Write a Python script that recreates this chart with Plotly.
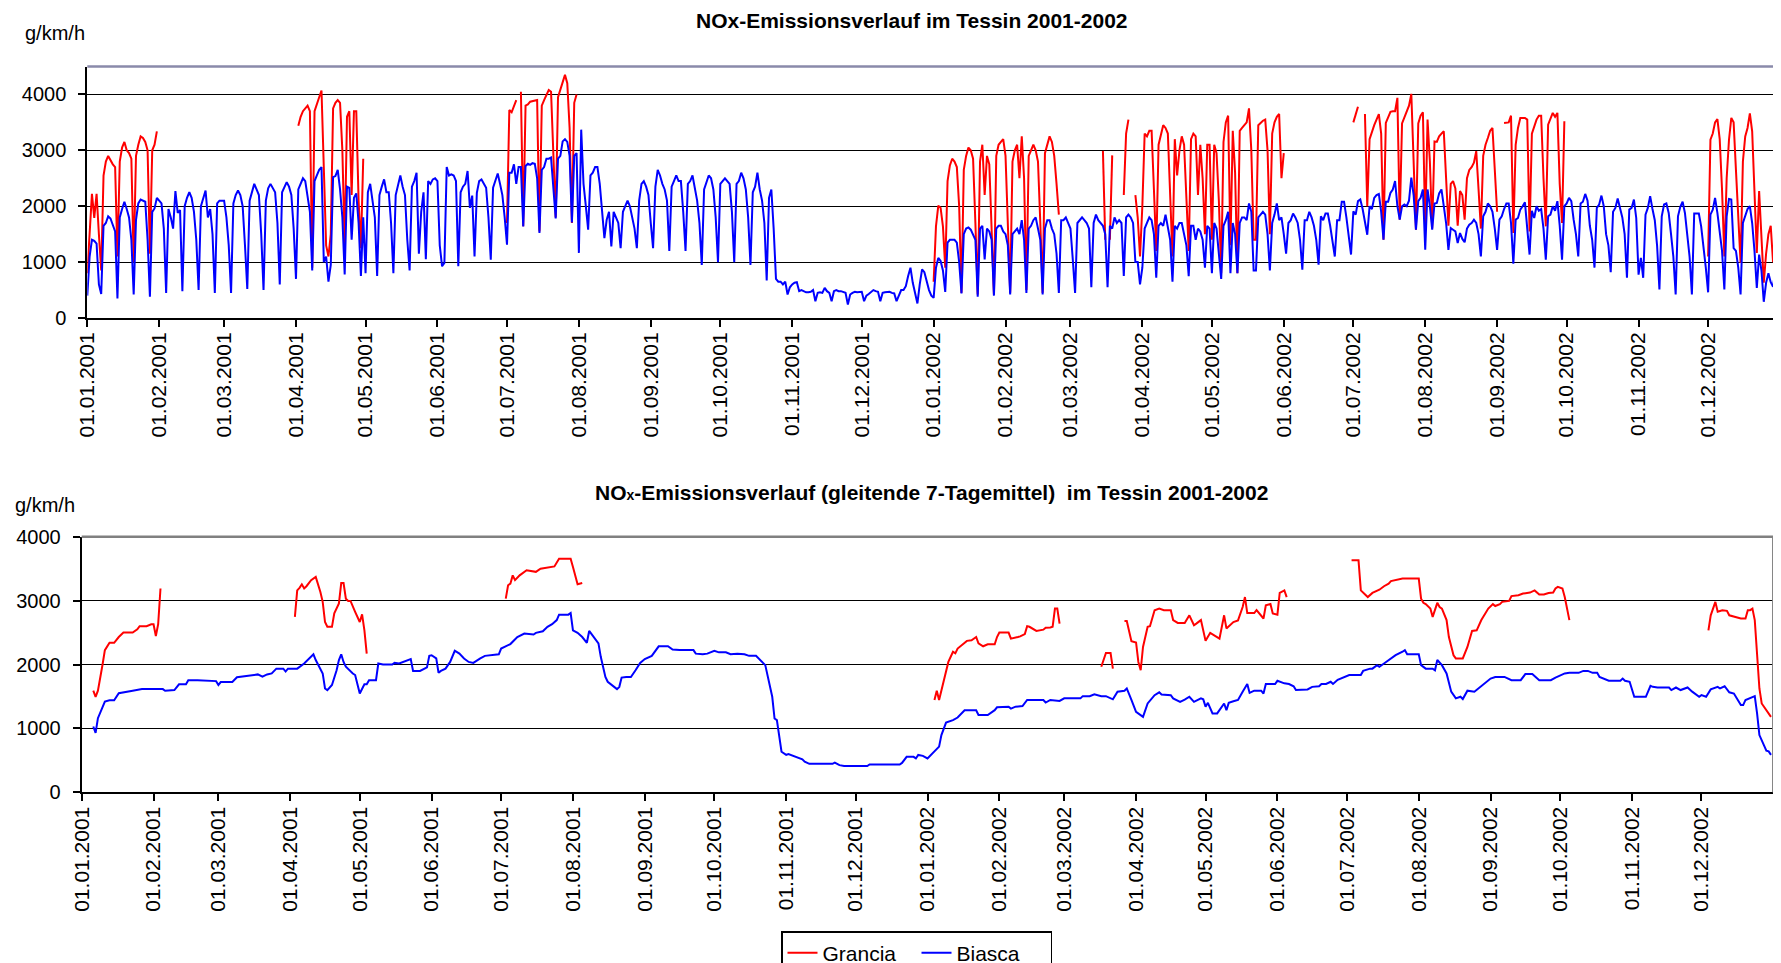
import numpy as np
import pandas as pd
import plotly.graph_objects as go

# daily NOx emission, Biasca (g/km/h), 01.01.2001 - 31.12.2002, one row per week (Mon-Sun)
biasca = [
    400, 1100, 1400, 1380, 1330, 600, 430,
    1650, 1700, 1820, 1780, 1680, 1550, 350,
    1800, 1950, 2080, 1950, 1800, 1400, 420,
    1750, 2050, 2120, 2100, 2080, 1400, 380,
    1900, 1960, 2150, 2100, 2050, 1600, 450,
    1950, 1800, 1600, 2270, 1880, 1930, 480,
    2000, 2150, 2250, 2150, 1900, 1400, 500,
    2000, 2150, 2280, 1800, 1950, 1500, 450,
    2050, 2100, 2100, 2100, 1800, 1300, 450,
    2050, 2200, 2280, 2200, 2000, 1300, 520,
    2100, 2250, 2400, 2300, 2200, 1500, 500,
    2100, 2320, 2400, 2330, 2250, 1700, 600,
    2250, 2350, 2430, 2350, 2200, 1600, 700,
    2300, 2400, 2500, 2450, 2200, 1900, 850,
    2450, 2550, 2650, 2700, 1000, 1100, 650,
    950, 2520, 2540, 2650, 2300, 1800, 780,
    2350, 2330, 1400, 2150, 2230, 1700, 750,
    1800, 800, 2250, 2400, 2100, 1800, 750,
    2200, 2350, 2480, 2250, 2250, 1700, 800,
    2200, 2400, 2550, 2350, 2200, 1400, 850,
    2350, 2450, 2600, 1150, 1900, 2250, 1050,
    2450, 2400, 2480, 2500, 2450, 1300, 925,
    985, 2700, 2550, 2570, 2550, 2450, 925,
    2250, 2350, 2400, 2630, 1970, 2190, 1100,
    2240, 2450, 2480, 2400, 2330, 1800, 1045,
    2330, 2450, 2585, 2400, 2200, 1800, 1310,
    2600, 2600, 2750, 2400, 2700, 2700, 1640,
    2720, 2760, 2740, 2770, 2760, 2500, 1520,
    2650, 2700, 2850, 2850, 2870, 2400, 1780,
    2850, 2900, 3160, 3200, 3150, 2900, 1710,
    2900, 2950, 1165, 3370, 2400, 2000, 1580,
    2550, 2600, 2700, 2700, 2400, 1900, 1430,
    1760, 1900, 1280, 1900, 1800, 1700, 1250,
    1900, 2000, 2100, 2000, 1800, 1600, 1250,
    2100, 2400, 2450, 2350, 2200, 1700, 1250,
    2350, 2650, 2550, 2400, 2300, 2100, 1200,
    2350, 2450, 2550, 2450, 2450, 1900, 1200,
    2400, 2450, 2550, 2300, 2100, 1700, 950,
    2300, 2450, 2550, 2500, 2300, 1800, 1000,
    2400, 2450, 2500, 2450, 2400, 1900, 1000,
    2400, 2450, 2600, 2500, 2300, 1800, 950,
    2250, 2350, 2600, 2300, 2100, 1700, 670,
    2150, 2300, 1600, 700, 650, 650, 600,
    650, 420, 550, 600, 630, 640, 480,
    500, 480, 460, 460, 470, 500, 300,
    450, 460, 450, 540, 480, 450, 300,
    480, 500, 480, 480, 460, 450, 240,
    420, 450, 470, 460, 470, 470, 300,
    400, 430, 470, 500, 480, 470, 300,
    450, 460, 470, 470, 450, 440, 300,
    420, 500, 500, 570, 750, 900, 630,
    470, 260, 600, 870, 820, 630, 500,
    400, 360, 900, 1075, 1020, 850, 465,
    1350, 1400, 1400, 1400, 1350, 1000, 440,
    1500, 1600, 1620, 1580, 1500, 1400, 380,
    1600, 1650, 1050, 1600, 1550, 1400, 400,
    1600, 1650, 1650, 1550, 1500, 1300, 420,
    1500, 1550, 1600, 1500, 1750, 1400, 450,
    1600, 1650, 1750, 1800, 1600, 1400, 420,
    1600, 1750, 1750, 1600, 1500, 1150, 450,
    1750, 1750, 1800, 1700, 1600, 1050, 450,
    1700, 1750, 1800, 1750, 1700, 1600, 550,
    1700, 1850, 1750, 1700, 1650, 1500, 550,
    1650, 1600, 1800, 1700, 1750, 1700, 750,
    1800, 1850, 1800, 1700, 1000, 1000, 600,
    900, 1600, 1700, 1800, 1750, 1500, 720,
    1650, 1700, 1650, 1850, 1650, 1400, 650,
    1650, 1600, 1700, 1700, 1500, 1300, 750,
    1650, 1650, 1400, 1600, 1550, 1400, 900,
    1650, 1600, 800, 1700, 1600, 1200, 700,
    1650, 1750, 1900, 800, 1700, 1500, 800,
    1700, 1800, 1800, 1750, 2050, 1900, 850,
    850, 1800, 1850, 1900, 1850, 1500, 850,
    1700, 1850, 2050, 1750, 1800, 1500, 1150,
    1700, 1750, 1870, 1800, 1700, 1400, 865,
    1750, 1750, 1900, 1800, 1650, 1400, 955,
    1820, 1750, 1870, 1870, 1650, 1400, 1100,
    1750, 1750, 2080, 2080, 1800, 1500, 1135,
    1910, 1850, 2090, 2120, 1950, 1700, 1490,
    2000, 1950, 2150, 2200, 2220, 1900, 1400,
    2080, 2080, 2240, 2300, 2450, 2000, 1760,
    2000, 2030, 2000, 2100, 2510, 2200, 1580,
    2090, 2150, 2300, 1220, 2300, 2000, 1580,
    2050, 2060, 2230, 2300, 2000, 1700, 1220,
    1610, 1580, 1550, 1340, 1520, 1415, 1355,
    1600, 1670, 1700, 1760, 1700, 1500, 1100,
    1820, 1900, 2050, 2000, 1900, 1600, 1220,
    1760, 1820, 1950, 2050, 2050, 1700, 970,
    1760, 1790, 1940, 2000, 2070, 1600, 1135,
    1920, 1790, 2000, 1920, 1950, 1600, 1045,
    1820, 1850, 2000, 1920, 2090, 1650, 1045,
    2000, 2050, 2150, 2090, 1760, 1500, 1100,
    2050, 2080, 2220, 2100, 1650, 1400, 900,
    1970, 2030, 2190, 2000, 1500, 1300, 820,
    1900, 1970, 2140, 1970, 1800, 1500, 720,
    1940, 1970, 2120, 1790, 775, 1075, 720,
    1850, 1970, 2180, 1950, 1750, 1290, 510,
    1820, 2030, 2050, 1880, 1500, 1100, 420,
    1820, 1990, 2080, 1880, 1500, 1100, 420,
    1870, 1870, 1870, 1640, 1300, 900, 460,
    1850, 1940, 2150, 1880, 1500, 1200, 510,
    1820, 2130, 2120, 1250, 1200, 900, 420,
    1700, 1820, 1950, 2000, 1700, 1200, 540,
    1135, 850, 290, 630, 800, 640, 560,
    870, 555,
]

# daily NOx emission, Grancia: only available in these periods (start date, values)
grancia_starts = ["2001-01-01", "2001-04-02", "2001-07-01", "2001-07-07",
                  "2002-01-01", "2002-03-15", "2002-03-18", "2002-03-24",
                  "2002-03-29", "2002-07-01", "2002-07-06", "2002-09-04",
                  "2002-12-01"]
grancia_jan01 = [
    800, 1600, 2220, 1790, 2220, 1500, 850,
    2550, 2800, 2900, 2820, 2750, 2700, 1100,
    2800, 3050, 3150, 3000, 2950, 2850, 1000,
    2900, 3100, 3250, 3220, 3150, 3000, 1150,
    3000, 3100, 3340,
]
grancia_apr01 = [
    3440, 3600, 3700, 3750, 3800, 3700, 900,
    3700, 3850, 3950, 4070, 2600, 1300, 1100,
    1500, 3750, 3850, 3900, 3850, 3000, 1300,
    3600, 3700, 2200, 3700, 3700, 2100, 1250,
    2850,
]
grancia_jul01a = [1700, 3720, 3680, 3800, 3900]
grancia_jul01b = [
    4050, 1640,
    3800, 3820, 3870, 3880, 3900, 3900, 1550,
    3800, 3900, 4000, 4080, 4050, 3000, 1800,
    3950, 4100, 4250, 4350, 4200, 3400, 1700,
    3850, 4000,
]
grancia_jan02 = [
    650, 1640, 2010, 1970, 1640, 900,
    2450, 2730, 2850, 2800, 2700, 2000, 450,
    2650, 2900, 3050, 3000, 2850, 1700, 420,
    2800, 3100, 2200, 2900, 2750, 1500, 420,
    2900, 3100, 3150, 3200, 2900, 1800, 450,
    2800, 3000, 3100, 2500, 3250, 2500, 500,
    2900, 3000, 3100, 3000, 2800, 1700, 450,
    2950, 3100, 3250, 3150, 2900, 2400, 1850,
]
grancia_mar02a = [2990, 1400]
grancia_mar02b = [1400, 2910]
grancia_mar02c = [2200, 3300, 3550]
grancia_mar02d = [
    2200, 1800, 1100,
    2000, 3300, 3250, 3350, 3350, 2300, 1200,
    3100, 3300, 3450, 3400, 3300, 2200, 1100,
    3200, 2550, 3000, 3250, 3100, 2200, 1200,
    3200, 3300, 3250, 2200, 3100, 2500, 1500,
    3100, 3100, 1400, 3100, 2950, 2100, 800,
    3150, 3500, 3620, 1300, 3350, 2600, 800,
    3350, 3400, 3450, 3500, 3750, 3000, 1400,
    1400, 3450, 3500, 3530, 3550, 3000, 1500,
    3300, 3500, 3600, 3650, 2500, 2950,
]
grancia_jul02a = [3500, 3650, 3780]
grancia_jul02b = [
    3650, 2000,
    3200, 3350, 3450, 3550, 3650, 3300, 1400,
    3490, 3600, 3690, 3700, 3700, 3940, 1760,
    3480, 3580, 3700, 3800, 4010, 2900, 1580,
    3480, 3620, 3680, 1600, 3550, 2800, 1600,
    3160, 3150, 3250, 3300, 3340, 2500, 1650,
    2400, 2450, 2320, 1650, 2270, 2200, 1760,
    2500, 2650, 2700, 2780, 2985, 2300, 1600,
    2900, 3100, 3220, 3350, 3400, 2700, 1900,
]
grancia_sep02 = [
    3490, 3490, 3500, 3620, 1520,
    3100, 3400, 3580, 3580, 3580, 3550, 1550,
    3300, 3430, 3550, 3620, 3620, 2500, 1640,
    3460, 3580, 3670, 3600, 3670, 2400, 1700, 3520,
]
grancia_dec02 = [
    1100,
    3190, 3300, 3500, 3560, 3200, 2300, 1100,
    2500, 3190, 3580, 3500, 2650, 1800, 985,
    2800, 3250, 3400, 3660, 3340, 2100, 1165,
    2270, 1500, 630, 1150, 1500, 1650, 1000, 1690, 1165,
]
grancia_segments = [grancia_jan01, grancia_apr01, grancia_jul01a, grancia_jul01b,
                    grancia_jan02, grancia_mar02a, grancia_mar02b, grancia_mar02c,
                    grancia_mar02d, grancia_jul02a, grancia_jul02b, grancia_sep02,
                    grancia_dec02]

# 7-day moving average, (days since 01.01.2001, value); None = no data
ma_biasca = [
    (5, 1030), (6, 930), (7, 1160), (9, 1340), (10, 1420), (12, 1440), (14, 1440),
    (16, 1550), (18, 1560), (22, 1590), (26, 1615), (35, 1615), (36, 1590), (40, 1600),
    (42, 1690), (45, 1690), (46, 1755), (50, 1755), (58, 1740), (59, 1680), (60, 1725),
    (65, 1725), (67, 1800), (71, 1820), (76, 1845), (78, 1810), (80, 1845), (82, 1860),
    (84, 1935), (87, 1935), (88, 1890), (89, 1935), (93, 1935), (96, 2015), (100, 2160),
    (101, 2070), (104, 1860), (105, 1625), (106, 1600), (108, 1680), (110, 1910),
    (111, 2070), (112, 2160), (113, 2040), (114, 1965), (117, 1860), (118, 1835),
    (120, 1545), (122, 1690), (123, 1690), (124, 1755), (127, 1755), (128, 2015),
    (130, 2000), (134, 2000), (135, 2025), (137, 2015), (142, 2085), (143, 1900),
    (146, 1900), (149, 1955), (150, 2135), (151, 2145), (153, 2095), (154, 1870),
    (155, 1900), (157, 1935), (159, 2040), (161, 2215), (163, 2170), (165, 2095),
    (167, 2040), (169, 2025), (172, 2095), (174, 2135), (180, 2160), (181, 2250),
    (185, 2320), (188, 2430), (191, 2485), (195, 2470), (196, 2495), (199, 2520),
    (201, 2590), (203, 2630), (205, 2695), (206, 2780), (210, 2780), (211, 2805),
    (212, 2535), (214, 2495), (216, 2430), (218, 2340), (219, 2525), (221, 2430),
    (223, 2330), (224, 2120), (226, 1805), (227, 1730), (230, 1650), (231, 1615),
    (232, 1650), (233, 1795), (235, 1805), (237, 1805), (239, 1910), (241, 2025),
    (243, 2085), (246, 2135), (249, 2285), (253, 2285), (255, 2235), (258, 2225),
    (264, 2225), (265, 2170), (268, 2160), (270, 2170), (273, 2215), (275, 2190),
    (278, 2190), (280, 2160), (283, 2170), (286, 2160), (288, 2135), (291, 2135),
    (295, 1990), (298, 1495), (299, 1155), (300, 1130), (302, 635), (304, 585),
    (305, 600), (308, 555), (311, 515), (312, 480), (314, 445), (324, 445), (325, 465),
    (327, 425), (329, 410), (339, 410), (340, 435), (353, 435), (354, 460), (356, 555),
    (359, 555), (360, 530), (361, 585), (363, 570), (365, 530), (370, 715), (371, 895),
    (373, 1090), (376, 1130), (378, 1170), (379, 1210), (381, 1285), (383, 1285),
    (386, 1285), (387, 1210), (391, 1210), (394, 1285), (395, 1330), (400, 1340),
    (401, 1310), (403, 1340), (406, 1350), (408, 1445), (415, 1445), (416, 1405),
    (418, 1445), (422, 1430), (424, 1470), (431, 1470), (432, 1505), (435, 1505),
    (437, 1535), (440, 1505), (442, 1505), (445, 1455), (447, 1575), (450, 1590),
    (451, 1625), (453, 1445), (454, 1365), (455, 1260), (458, 1180), (460, 1390),
    (463, 1520), (465, 1565), (466, 1530), (470, 1520), (471, 1470), (474, 1415),
    (476, 1450), (478, 1495), (480, 1415), (483, 1470), (484, 1455), (485, 1340),
    (486, 1400), (488, 1235), (490, 1235), (491, 1285), (493, 1390), (494, 1285),
    (495, 1400), (497, 1425), (499, 1445), (501, 1575), (503, 1695), (504, 1555),
    (506, 1590), (509, 1590), (510, 1545), (511, 1695), (515, 1695), (516, 1745),
    (519, 1705), (521, 1695), (523, 1660), (524, 1600), (529, 1610), (531, 1650),
    (534, 1660), (535, 1695), (537, 1695), (539, 1730), (540, 1695), (542, 1760),
    (547, 1835), (552, 1835), (553, 1900), (556, 1935), (557, 1935), (559, 1990),
    (560, 1965), (562, 2015), (564, 2070), (567, 2145), (570, 2200), (571, 2225),
    (572, 2160), (577, 2160), (578, 1990), (580, 1935), (583, 1935), (584, 1910),
    (585, 2070), (587, 1990), (589, 1860), (591, 1575), (593, 1470), (595, 1495),
    (596, 1460), (598, 1590), (601, 1575), (604, 1665), (608, 1780), (610, 1805),
    (614, 1805), (617, 1755), (621, 1755), (623, 1850), (626, 1850), (629, 1755),
    (634, 1755), (636, 1795), (639, 1835), (640, 1860), (642, 1870), (646, 1870),
    (648, 1900), (650, 1900), (652, 1870), (654, 1870), (655, 1805), (657, 1770),
    (659, 1745), (664, 1745), (665, 1780), (666, 1745), (668, 1730), (670, 1495),
    (675, 1495), (677, 1665), (678, 1650), (680, 1640), (685, 1640), (686, 1600),
    (688, 1640), (690, 1600), (693, 1640), (695, 1575), (698, 1495), (699, 1520),
    (701, 1495), (703, 1610), (706, 1650), (707, 1625), (709, 1660), (711, 1565),
    (713, 1545), (716, 1365), (717, 1365), (718, 1445), (721, 1485), (722, 1505),
    (723, 1235), (724, 895), (727, 650), (728, 640), (729, 585),
]
ma_grancia = [
    (5, 1590), (6, 1495), (7, 1590), (8, 1780), (9, 2000), (10, 2225), (12, 2340),
    (14, 2340), (16, 2430), (18, 2500), (22, 2500), (24, 2550), (25, 2600), (28, 2600),
    (30, 2630), (31, 2630), (32, 2445), (33, 2630), (34, 3190), (60, None),
    (92, 2745), (93, 3160), (94, 3200), (95, 3255), (96, 3190), (97, 3225), (99, 3320),
    (101, 3370), (103, 3135), (104, 2980), (105, 2665), (106, 2590), (108, 2590),
    (109, 2800), (111, 2955), (112, 3275), (113, 3275), (114, 3030), (115, 2995),
    (116, 2995), (118, 2825), (120, 2665), (121, 2785), (122, 2535), (123, 2170),
    (150, None),
    (183, 3030), (184, 3240), (185, 3265), (186, 3395), (187, 3320), (189, 3395),
    (192, 3475), (194, 3465), (196, 3450), (198, 3500), (201, 3515), (204, 3535),
    (206, 3655), (211, 3655), (212, 3525), (214, 3255), (216, 3275), (300, None),
    (368, 1445), (369, 1590), (370, 1445), (372, 1755), (374, 2040), (376, 2200),
    (377, 2175), (378, 2250), (381, 2330), (382, 2370), (384, 2380), (386, 2430),
    (387, 2330), (389, 2285), (391, 2315), (394, 2315), (395, 2430), (396, 2500),
    (400, 2500), (401, 2405), (404, 2430), (405, 2440), (407, 2475), (408, 2600),
    (409, 2590), (411, 2545), (412, 2525), (415, 2545), (416, 2575), (418, 2580),
    (419, 2590), (420, 2875), (421, 2875), (422, 2640), (430, None),
    (440, 1965), (442, 2180), (444, 2180), (445, 1935), (448, None),
    (450, 2680), (451, 2680), (453, 2365), (455, 2345), (456, 2040), (457, 1910),
    (458, 2275), (460, 2590), (461, 2600), (463, 2850), (465, 2875), (467, 2850),
    (470, 2850), (471, 2695), (473, 2650), (476, 2650), (478, 2770), (480, 2615),
    (481, 2640), (483, 2695), (485, 2370), (487, 2495), (491, 2405), (493, 2770),
    (494, 2565), (497, 2665), (499, 2690), (501, 2900), (502, 3055), (503, 2805),
    (506, 2805), (507, 2850), (510, 2720), (511, 2925), (513, 2945), (514, 2800),
    (516, 2780), (517, 3120), (519, 3160), (520, 3055), (530, None),
    (548, 3630), (551, 3630), (552, 3160), (553, 3125), (555, 3055), (557, 3120),
    (559, 3150), (560, 3170), (562, 3225), (564, 3265), (565, 3305), (567, 3320),
    (569, 3330), (570, 3345), (577, 3345), (578, 3030), (579, 2965), (580, 2945),
    (582, 2875), (583, 2745), (585, 2965), (586, 2900), (587, 2875), (589, 2695),
    (590, 2430), (592, 2145), (593, 2095), (596, 2095), (598, 2275), (599, 2405),
    (600, 2525), (602, 2535), (604, 2695), (607, 2875), (609, 2945), (610, 2915),
    (612, 2945), (613, 2980), (616, 2995), (617, 3070), (620, 3085), (622, 3110),
    (625, 3125), (627, 3160), (629, 3095), (631, 3095), (633, 3120), (635, 3125),
    (636, 3190), (637, 3215), (639, 3190), (640, 3055), (642, 2695), (670, None),
    (702, 2535), (703, 2770), (705, 2980), (706, 2825), (708, 2850), (710, 2840),
    (711, 2770), (714, 2745), (716, 2720), (718, 2720), (719, 2850), (720, 2850),
    (721, 2875), (722, 2695), (724, 1625), (725, 1390), (727, 1285), (728, 1235),
    (729, 1180),
]

RED = "#ff0000"
BLUE = "#0000ff"
FONT = "Arial, Liberation Sans, sans-serif"
W, H = 1781, 963
OFF = 8  # page body margin in front of the plot div


def fx(px):
    return (px - OFF) / W


def fy(py):
    return 1 - (py - OFF) / H


start = pd.Timestamp("2001-01-01")
days = pd.date_range(start, periods=len(biasca), freq="D")

grancia = pd.Series(np.nan, index=days)
for s, vals in zip(grancia_starts, grancia_segments):
    grancia.loc[pd.date_range(s, periods=len(vals), freq="D")] = vals


def ma_xy(pairs):
    x = [start + pd.Timedelta(days=d) for d, _ in pairs]
    y = [v for _, v in pairs]
    return x, y


gx, gy = ma_xy(ma_grancia)
bx, by = ma_xy(ma_biasca)

fig = go.Figure()
fig.add_trace(go.Scatter(x=days, y=grancia.values, mode="lines", name="Grancia",
                         line=dict(color=RED, width=2), showlegend=False,
                         xaxis="x", yaxis="y"))
fig.add_trace(go.Scatter(x=days, y=biasca, mode="lines", name="Biasca",
                         line=dict(color=BLUE, width=2), showlegend=False,
                         xaxis="x", yaxis="y"))
fig.add_trace(go.Scatter(x=gx, y=gy, mode="lines", name="Grancia",
                         line=dict(color=RED, width=2), xaxis="x2", yaxis="y2"))
fig.add_trace(go.Scatter(x=bx, y=by, mode="lines", name="Biasca",
                         line=dict(color=BLUE, width=2), xaxis="x2", yaxis="y2"))

months = pd.date_range("2001-01-01", "2002-12-01", freq="MS")
month_text = [m.strftime("%d.%m.%Y") for m in months]

xaxis_style = dict(
    type="date", range=["2001-01-01", "2003-01-01"], automargin=False,
    tickmode="array", tickvals=months, ticktext=month_text, tickangle=-90,
    ticks="outside", ticklen=7, tickwidth=1.5, tickcolor="black",
    ticklabelstandoff=-3,
    showline=True, linecolor="black", linewidth=2,
    showgrid=False, zeroline=False,
    tickfont=dict(family=FONT, size=21, color="black"),
)
yaxis_style = dict(
    dtick=1000, tick0=0, automargin=False,
    ticks="outside", ticklen=7, tickwidth=1.5, tickcolor="black",
    ticklabelstandoff=8,
    showline=True, linecolor="black", linewidth=2,
    showgrid=True, gridcolor="black", gridwidth=1.3, zeroline=False,
    tickfont=dict(family=FONT, size=20, color="black"),
)

fig.update_layout(
    width=W, height=H,
    margin=dict(l=0, r=0, t=0, b=0, pad=0, autoexpand=False),
    paper_bgcolor="white", plot_bgcolor="white",
    font=dict(family=FONT, color="black"),
    xaxis=dict(domain=[fx(87.3), fx(1780)], anchor="y", **xaxis_style),
    yaxis=dict(domain=[fy(318), fy(66.5)], range=[0, 4500], anchor="x", **yaxis_style),
    xaxis2=dict(domain=[fx(81.7), fx(1773.3)], anchor="y2", **xaxis_style),
    yaxis2=dict(domain=[fy(792.3), fy(536.7)], range=[0, 4000], anchor="x2",
                **yaxis_style),
    legend=dict(orientation="h", x=fx(781), y=fy(931), xanchor="left", yanchor="top",
                bordercolor="black", borderwidth=1.5, bgcolor="white",
                font=dict(family=FONT, size=21, color="black"),
                entrywidth=89, entrywidthmode="pixels",
                traceorder="normal"),
    hovermode=False,
)

# grey frame on top / right of each plot area
for xr, yr, col in [("x domain", "y domain", "#8a8aaa"), ("x2 domain", "y2 domain", "#808080")]:
    fig.add_shape(type="line", xref=xr, yref=yr, x0=0, x1=1, y0=1, y1=1,
                  line=dict(color=col, width=2.5))
    fig.add_shape(type="line", xref=xr, yref=yr, x0=1, x1=1, y0=0, y1=1,
                  line=dict(color=col, width=2.5))

fig.add_annotation(text="<b>NOx-Emissionsverlauf im Tessin 2001-2002</b>",
                   xref="paper", yref="paper", x=fx(911), y=1,
                   xanchor="center", yanchor="top", showarrow=False, borderpad=0,
                   font=dict(family=FONT, size=21, color="black"))
fig.add_annotation(text="<b>NO<span style='font-size:14px'>x</span>-Emissionsverlauf "
                        "(gleitende 7-Tagemittel)&nbsp; im Tessin 2001-2002</b>",
                   xref="paper", yref="paper", x=fx(931), y=fy(492),
                   xanchor="center", yanchor="middle", showarrow=False,
                   font=dict(family=FONT, size=21, color="black"))
fig.add_annotation(text="g/km/h", xref="paper", yref="paper", x=fx(23), y=fy(33),
                   xanchor="left", yanchor="middle", showarrow=False,
                   font=dict(family=FONT, size=20, color="black"))
fig.add_annotation(text="g/km/h", xref="paper", yref="paper", x=fx(13), y=fy(505),
                   xanchor="left", yanchor="middle", showarrow=False,
                   font=dict(family=FONT, size=20, color="black"))

fig.write_html("out.html")
